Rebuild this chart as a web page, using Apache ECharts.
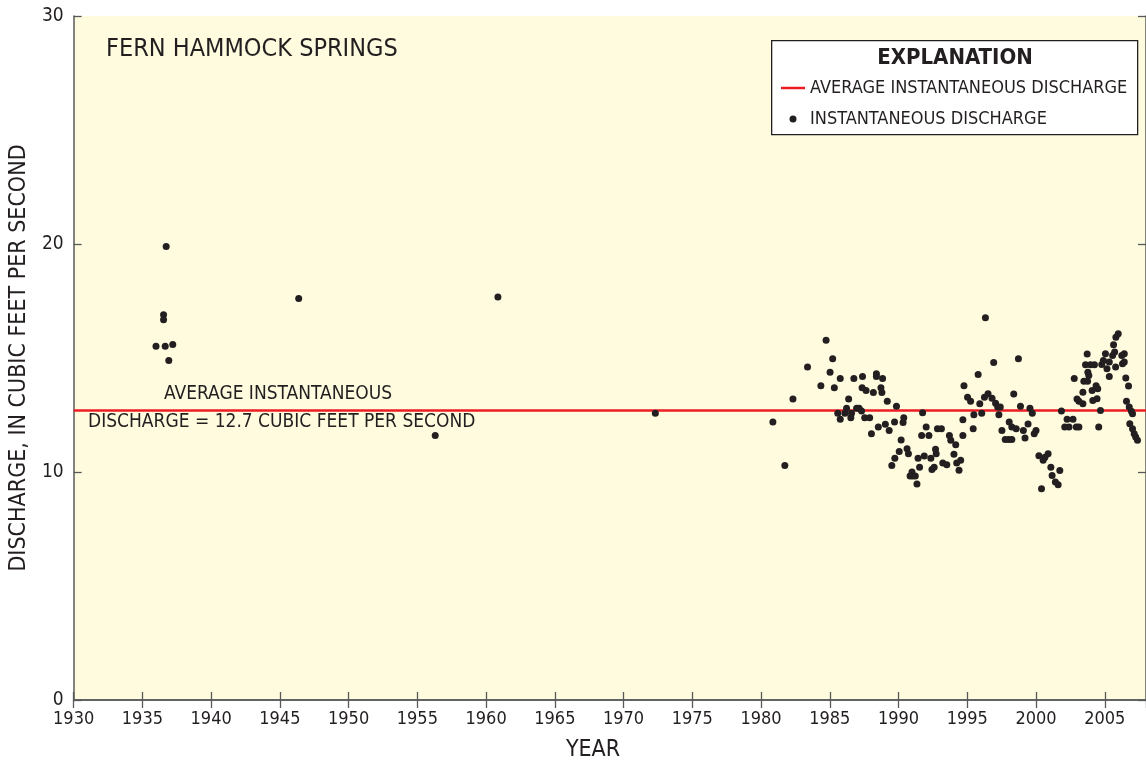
<!DOCTYPE html>
<html>
	<head>
		<meta charset="UTF-8">
		<title>Fern Hammock Springs</title>
		<script type="text/javascript" src="https://cdn.jsdelivr.net/npm/echarts@6/dist/echarts.min.js"></script>
		<style>
			html, body { margin: 0; padding: 0; background: #fff; }
			#chart { width: 1146px; height: 763px; }
		</style>
	</head>
	<body>
		<div id="chart"></div>
		<script>
			// 数据：年份（小数年）与瞬时流量
			var years = [
				1935.99, 1936.66, 1936.54, 1936.54, 1936.73, 1937.21, 1936.92,
				1946.37, 1960.86, 1956.30, 1972.31, 1980.86, 1981.73, 1982.32,
				1984.73, 1985.21, 1983.38, 1985.02, 1984.35, 1985.33, 1985.76, 1986.75, 1987.38, 1988.39,
				1988.39, 1988.84, 1987.35, 1987.64, 1988.17, 1988.72, 1988.79, 1986.37, 1985.58, 1985.76,
				1986.22, 1986.10, 1986.58, 1986.53, 1986.95, 1987.13, 1987.31, 1987.54, 1987.90, 1989.18,
				1989.85, 1988.03, 1988.53, 1989.04, 1989.32, 1989.71, 1990.38, 1990.33, 1990.19, 1990.05,
				1989.73, 1989.51, 1990.62, 1990.72, 1991.75, 1992.01, 1991.68, 1992.21, 1992.83, 1993.12,
				1991.42, 1991.87, 1992.35, 1992.74, 1992.69, 1991.53, 1990.98, 1991.03, 1990.84, 1991.22,
				1991.34, 1992.43, 1992.59, 1993.70, 1993.80, 1994.16, 1994.03, 1993.22, 1993.51, 1994.23,
				1994.52, 1994.40, 1994.68, 1994.68, 1994.76,
				1996.32, 1996.92, 1998.72, 1995.79, 1995.02, 1995.24, 1995.91, 1995.48, 1996.05, 1996.25,
				1996.51, 1996.80, 1997.06, 1997.21, 1997.40, 1995.43, 1997.30, 1998.38, 1998.87, 1999.56,
				1999.73, 1998.05, 1998.24, 1998.56, 1997.52, 1997.76, 1998.00, 1998.24, 1999.08, 1999.20,
				1999.42, 2000.00, 1999.87, 2000.21, 2000.52, 2000.88, 2000.65, 2000.40, 2001.08, 2001.17,
				2001.73, 2001.41, 2001.61, 2001.85, 2002.09, 2002.40, 2002.26, 2002.69, 2002.93, 2003.12,
				2002.78, 2002.98, 2003.12, 2003.41, 2003.41, 2003.48, 2003.75, 2003.72, 2003.60, 2003.96,
				2004.25, 2003.77, 2003.84, 2004.08, 2004.37, 2004.49, 2004.13, 2004.44, 2004.69, 2004.56,
				2004.78, 2004.90, 2005.05, 2005.16, 2005.33, 2005.33, 2005.57, 2005.79, 2005.64, 2005.81,
				2005.98, 2005.72, 2006.24, 2006.42, 2006.29, 2006.42, 2006.53, 2006.73, 2006.58, 2006.78,
				2006.94, 2007.02, 2006.82, 2007.02, 2007.14, 2007.25, 2007.38
			];
			var discharge = [
				15.51, 15.51, 16.90, 16.68, 19.89, 15.59, 14.89,
				17.61, 17.67, 11.60, 12.58, 12.19, 10.29, 13.20,
				15.78, 14.97, 14.60, 14.38, 13.78, 13.70, 14.10, 14.10, 14.19, 14.31,
				14.19, 14.10, 13.70, 13.58, 13.49, 13.70, 13.49, 13.20, 12.58, 12.31,
				12.80, 12.58, 12.58, 12.38, 12.80, 12.80, 12.67, 12.38, 12.38, 13.10,
				12.88, 11.68, 11.97, 12.09, 11.82, 12.19, 12.38, 12.17, 11.40, 10.90,
				10.60, 10.29, 11.02, 10.80, 12.60, 11.97, 11.60, 11.60, 11.90, 11.90,
				10.60, 10.70, 10.60, 10.80, 11.00, 10.21, 10.00, 9.82, 9.82, 9.82,
				9.47, 10.11, 10.21, 11.60, 11.39, 11.20, 10.78, 10.39, 10.32, 10.39,
				10.51, 10.08, 11.60, 12.29, 13.78,
				16.76, 14.80, 14.97, 14.28, 13.28, 13.10, 12.99, 12.51, 12.58, 13.28,
				13.43, 13.23, 13.02, 12.85, 12.85, 11.90, 12.51, 13.42, 12.88, 12.80,
				12.58, 12.19, 11.97, 11.90, 11.82, 11.42, 11.42, 11.42, 11.82, 11.49,
				12.10, 11.82, 11.68, 10.71, 10.51, 10.80, 10.65, 9.27, 10.21, 9.85,
				10.07, 9.56, 9.44, 12.67, 11.97, 11.97, 12.31, 12.31, 11.97, 11.97,
				14.10, 13.20, 13.10, 12.99, 13.50, 13.98, 13.98, 15.17, 14.70, 14.70,
				14.70, 14.38, 14.23, 13.58, 13.78, 13.65, 13.14, 13.21, 12.70, 11.97,
				14.72, 14.89, 15.19, 14.53, 14.19, 14.82, 15.11, 14.60, 15.58, 15.91,
				16.06, 15.26, 15.11, 15.19, 14.75, 14.82, 14.12, 13.77, 13.10, 12.85,
				12.66, 12.56, 12.12, 11.90, 11.68, 11.53, 11.39
			];
			var averageDischarge = 12.7;
			var xTicks = { min: 1930, max: 2008, interval: 5 };
			var yTicks = { min: 0, max: 30, interval: 10 };

			var font = "'DejaVu Sans Condensed', 'Liberation Sans Narrow', sans-serif";
			var ink = '#231f20';
			var axisGray = '#58595b';
			var red = '#ed1c24';

			var points = [];
			for (var i = 0; i < years.length; i++) {
				points.push([years[i], discharge[i]]);
			}

			var chart = echarts.init(document.getElementById('chart'));

			var axisLine = { show: true, lineStyle: { color: axisGray, width: 1.5 } };
			var innerTick = { show: true, inside: true, length: 8, lineStyle: { color: axisGray, width: 1.3 } };

			var option = {
				animation: false,
				backgroundColor: '#ffffff',
				textStyle: { fontFamily: font, color: ink },
				grid: {
					left: 72, top: 16, width: 1081.6, height: 684,
					show: true, backgroundColor: '#fefbdf', borderWidth: 0
				},
				xAxis: [{
					type: 'value', position: 'bottom',
					min: xTicks.min, max: xTicks.max, interval: xTicks.interval,
					axisLine: axisLine, axisTick: innerTick,
					splitLine: { show: false },
					axisLabel: {
						color: ink, fontSize: 18, fontFamily: font, margin: 10, showMaxLabel: false,
						formatter: function (v) { return String(v); }
					}
				}, {
					type: 'value', position: 'top',
					min: xTicks.min, max: xTicks.max, interval: xTicks.interval,
					axisLine: axisLine, axisTick: innerTick,
					splitLine: { show: false }, axisLabel: { show: false }
				}],
				yAxis: [{
					type: 'value', position: 'left',
					min: yTicks.min, max: yTicks.max, interval: yTicks.interval,
					name: 'DISCHARGE, IN CUBIC FEET PER SECOND',
					nameLocation: 'middle', nameGap: 42,
					nameTextStyle: { color: ink, fontSize: 23, fontFamily: font },
					axisLine: axisLine, axisTick: innerTick,
					splitLine: { show: false },
					axisLabel: { color: ink, fontSize: 19, fontFamily: font, margin: 10 }
				}, {
					type: 'value', position: 'right',
					min: yTicks.min, max: yTicks.max, interval: yTicks.interval,
					axisLine: axisLine, axisTick: innerTick,
					splitLine: { show: false }, axisLabel: { show: false }
				}],
				legend: {
					orient: 'vertical',
					left: 781, top: 78,
					padding: 0,
					itemGap: 11,
					itemWidth: 24,
					itemHeight: 7,
					z: 20,
					selectedMode: false,
					textStyle: { color: ink, fontSize: 18, fontFamily: font, lineHeight: 20 },
					data: [
						// 图例中只画红线，不画圆点
						{ name: 'AVERAGE INSTANTANEOUS DISCHARGE', icon: 'path://M0,0H24V2.5H0Z', itemStyle: { color: red } },
						{ name: 'INSTANTANEOUS DISCHARGE', icon: 'circle' }
					]
				},
				graphic: [
					{
						type: 'rect', left: 771, top: 40, z: 1,
						shape: { width: 366, height: 94 },
						style: { fill: '#ffffff', stroke: ink, lineWidth: 1.3 }
					},
					{
						type: 'text', x: 955, y: 58, z: 30,
						style: { text: 'EXPLANATION', fill: ink, font: 'bold 22px ' + font, align: 'center', verticalAlign: 'middle' }
					},
					{
						type: 'text', x: 106, y: 49, z: 30,
						style: { text: 'FERN HAMMOCK SPRINGS', fill: ink, font: '25px ' + font, align: 'left', verticalAlign: 'middle' }
					},
					{
						type: 'text', x: 278, y: 394, z: 30,
						style: { text: 'AVERAGE INSTANTANEOUS', fill: ink, font: '19px ' + font, align: 'center', verticalAlign: 'middle' }
					},
					{
						type: 'text', x: 88, y: 422, z: 30,
						style: { text: 'DISCHARGE = 12.7 CUBIC FEET PER SECOND', fill: ink, font: '19px ' + font, align: 'left', verticalAlign: 'middle' }
					},
					{
						type: 'text', x: 593, y: 750, z: 30,
						style: { text: 'YEAR', fill: ink, font: '23px ' + font, align: 'center', verticalAlign: 'middle' }
					}
				],
				series: [{
					name: 'AVERAGE INSTANTANEOUS DISCHARGE',
					type: 'line',
					xAxisIndex: 0, yAxisIndex: 0,
					symbol: 'none',
					lineStyle: { color: red, width: 2.5 },
					itemStyle: { color: red },
					data: [[xTicks.min, averageDischarge], [xTicks.max, averageDischarge]],
					z: 3
				}, {
					name: 'INSTANTANEOUS DISCHARGE',
					type: 'scatter',
					xAxisIndex: 0, yAxisIndex: 0,
					symbol: 'circle',
					symbolSize: 7,
					itemStyle: { color: ink, opacity: 1 },
					data: points,
					z: 4
				}]
			};

			chart.setOption(option);
		</script>
	</body>
</html>
